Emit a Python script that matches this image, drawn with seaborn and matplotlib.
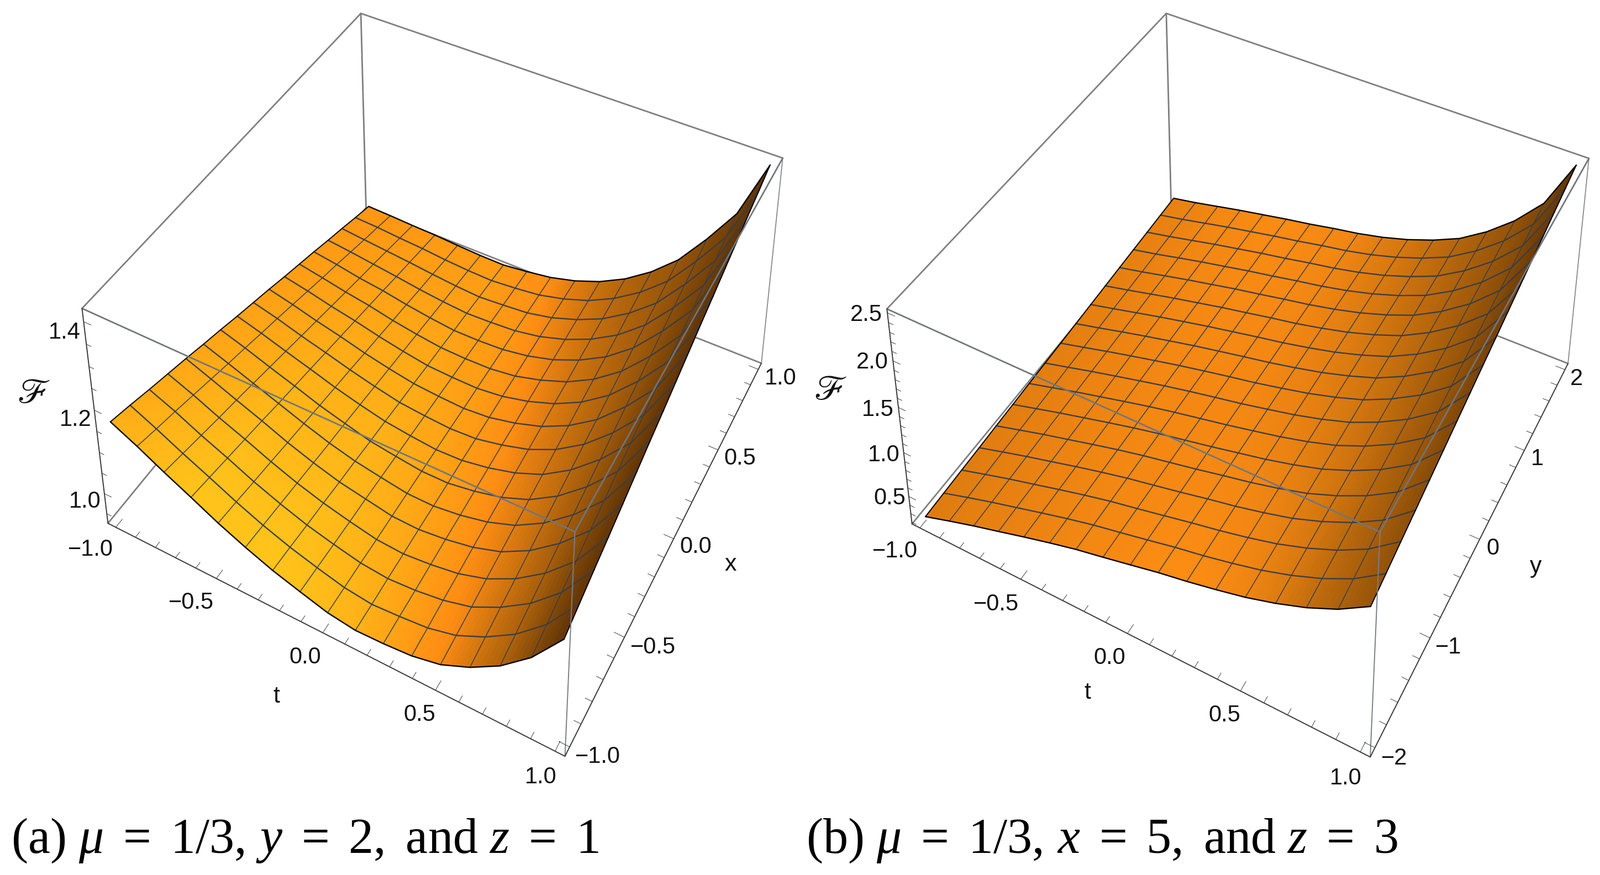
import numpy as np
import matplotlib
matplotlib.use("Agg")
import matplotlib.pyplot as plt
import seaborn as sns

WIDTH, HEIGHT = 2896, 1584

# t runs along the rows, the second variable along the columns
T_NODES = [-1.0, -0.875, -0.75, -0.625, -0.5, -0.375, -0.25, -0.125, 0.0, 0.125, 0.25, 0.375, 0.5, 0.625, 0.75, 0.875, 1.0]
X_NODES = [-1.0, -0.875, -0.75, -0.625, -0.5, -0.375, -0.25, -0.125, 0.0, 0.125, 0.25, 0.375, 0.5, 0.625, 0.75, 0.875, 1.0]
Y_NODES = [-2.0, -1.75, -1.5, -1.25, -1.0, -0.75, -0.5, -0.25, 0.0, 0.25, 0.5, 0.75, 1.0, 1.25, 1.5, 1.75, 2.0]

F_A = [
    [1.165, 1.152, 1.138, 1.125, 1.112, 1.098, 1.085, 1.071, 1.058, 1.045, 1.031, 1.018, 1.005, 0.991, 0.978, 0.964, 0.951],
    [1.136, 1.124, 1.113, 1.101, 1.089, 1.077, 1.066, 1.054, 1.043, 1.031, 1.019, 1.007, 0.996, 0.984, 0.972, 0.961, 0.949],
    [1.104, 1.094, 1.084, 1.074, 1.065, 1.055, 1.045, 1.035, 1.025, 1.015, 1.005, 0.995, 0.985, 0.976, 0.966, 0.956, 0.946],
    [1.074, 1.066, 1.058, 1.050, 1.042, 1.033, 1.025, 1.017, 1.009, 1.001, 0.993, 0.985, 0.977, 0.968, 0.960, 0.952, 0.944],
    [1.043, 1.037, 1.030, 1.024, 1.017, 1.011, 1.004, 0.998, 0.992, 0.985, 0.979, 0.972, 0.966, 0.959, 0.953, 0.946, 0.940],
    [1.016, 1.011, 1.006, 1.001, 0.996, 0.991, 0.987, 0.982, 0.977, 0.972, 0.967, 0.962, 0.957, 0.952, 0.947, 0.942, 0.937],
    [0.992, 0.989, 0.985, 0.982, 0.978, 0.975, 0.971, 0.968, 0.964, 0.961, 0.957, 0.954, 0.950, 0.947, 0.943, 0.940, 0.936],
    [0.973, 0.971, 0.969, 0.967, 0.966, 0.964, 0.962, 0.960, 0.958, 0.956, 0.954, 0.952, 0.950, 0.949, 0.947, 0.945, 0.943],
    [0.955, 0.955, 0.955, 0.954, 0.954, 0.954, 0.954, 0.954, 0.954, 0.953, 0.953, 0.953, 0.953, 0.953, 0.952, 0.952, 0.952],
    [0.946, 0.947, 0.949, 0.950, 0.952, 0.953, 0.954, 0.956, 0.957, 0.958, 0.960, 0.961, 0.963, 0.964, 0.965, 0.967, 0.968],
    [0.948, 0.951, 0.953, 0.956, 0.959, 0.961, 0.964, 0.967, 0.970, 0.972, 0.975, 0.978, 0.980, 0.983, 0.986, 0.988, 0.991],
    [0.953, 0.957, 0.962, 0.966, 0.971, 0.975, 0.979, 0.984, 0.988, 0.992, 0.997, 1.001, 1.006, 1.010, 1.014, 1.019, 1.023],
    [0.967, 0.973, 0.979, 0.986, 0.992, 0.998, 1.004, 1.010, 1.017, 1.023, 1.029, 1.035, 1.041, 1.047, 1.054, 1.060, 1.066],
    [0.996, 1.004, 1.012, 1.019, 1.027, 1.035, 1.043, 1.051, 1.059, 1.066, 1.074, 1.082, 1.090, 1.098, 1.105, 1.113, 1.121],
    [1.035, 1.045, 1.055, 1.065, 1.076, 1.086, 1.096, 1.106, 1.116, 1.126, 1.136, 1.146, 1.157, 1.167, 1.177, 1.187, 1.197],
    [1.090, 1.102, 1.114, 1.126, 1.138, 1.150, 1.162, 1.174, 1.186, 1.198, 1.210, 1.222, 1.234, 1.246, 1.258, 1.270, 1.282],
    [1.167, 1.183, 1.199, 1.214, 1.230, 1.246, 1.262, 1.277, 1.293, 1.309, 1.325, 1.340, 1.356, 1.372, 1.388, 1.403, 1.419],
]

F_B = [
    [0.226, 0.237, 0.248, 0.258, 0.269, 0.280, 0.291, 0.302, 0.312, 0.323, 0.334, 0.345, 0.356, 0.367, 0.377, 0.388, 0.399],
    [0.320, 0.328, 0.337, 0.345, 0.353, 0.361, 0.370, 0.378, 0.386, 0.394, 0.403, 0.411, 0.419, 0.427, 0.436, 0.444, 0.452],
    [0.410, 0.416, 0.423, 0.429, 0.436, 0.442, 0.449, 0.455, 0.462, 0.468, 0.474, 0.481, 0.487, 0.494, 0.500, 0.507, 0.513],
    [0.493, 0.498, 0.503, 0.508, 0.513, 0.518, 0.523, 0.528, 0.534, 0.539, 0.544, 0.549, 0.554, 0.559, 0.564, 0.569, 0.574],
    [0.578, 0.581, 0.584, 0.588, 0.591, 0.594, 0.597, 0.600, 0.604, 0.607, 0.610, 0.613, 0.616, 0.619, 0.623, 0.626, 0.629],
    [0.659, 0.661, 0.662, 0.664, 0.666, 0.667, 0.669, 0.670, 0.672, 0.674, 0.675, 0.677, 0.679, 0.680, 0.682, 0.683, 0.685],
    [0.735, 0.735, 0.735, 0.735, 0.735, 0.735, 0.735, 0.735, 0.735, 0.735, 0.735, 0.735, 0.735, 0.735, 0.735, 0.735, 0.735],
    [0.798, 0.798, 0.797, 0.797, 0.797, 0.796, 0.796, 0.796, 0.796, 0.795, 0.795, 0.795, 0.794, 0.794, 0.794, 0.793, 0.793],
    [0.864, 0.863, 0.862, 0.860, 0.859, 0.858, 0.857, 0.855, 0.854, 0.853, 0.852, 0.850, 0.849, 0.848, 0.847, 0.845, 0.844],
    [0.931, 0.930, 0.928, 0.927, 0.926, 0.924, 0.923, 0.922, 0.921, 0.919, 0.918, 0.917, 0.915, 0.914, 0.913, 0.911, 0.910],
    [0.988, 0.988, 0.989, 0.989, 0.990, 0.990, 0.991, 0.991, 0.992, 0.992, 0.992, 0.993, 0.993, 0.994, 0.994, 0.995, 0.995],
    [1.053, 1.056, 1.059, 1.062, 1.065, 1.068, 1.071, 1.074, 1.078, 1.081, 1.084, 1.087, 1.090, 1.093, 1.096, 1.099, 1.102],
    [1.125, 1.132, 1.139, 1.145, 1.152, 1.159, 1.166, 1.173, 1.180, 1.186, 1.193, 1.200, 1.207, 1.214, 1.220, 1.227, 1.234],
    [1.217, 1.230, 1.243, 1.256, 1.269, 1.282, 1.295, 1.308, 1.321, 1.333, 1.346, 1.359, 1.372, 1.385, 1.398, 1.411, 1.424],
    [1.328, 1.349, 1.370, 1.391, 1.412, 1.432, 1.453, 1.474, 1.495, 1.516, 1.537, 1.558, 1.578, 1.599, 1.620, 1.641, 1.662],
    [1.469, 1.500, 1.532, 1.563, 1.594, 1.626, 1.657, 1.688, 1.720, 1.751, 1.782, 1.813, 1.845, 1.876, 1.907, 1.939, 1.970],
    [1.656, 1.708, 1.761, 1.813, 1.866, 1.918, 1.971, 2.023, 2.076, 2.128, 2.180, 2.233, 2.285, 2.338, 2.390, 2.443, 2.495],
]

# axis ranges and tick labels
T_LIM = (-1.04, 1.04)
X_LIM = (-1.04, 1.04)
Y_LIM = (-2.08, 2.08)
F_LIM_A = (0.926, 1.429)
F_LIM_B = (0.18, 2.54)

T_MAJOR = [-1.0, -0.5, 0.0, 0.5, 1.0]
T_MINOR = [-0.9, -0.8, -0.7, -0.6, -0.4, -0.3, -0.2, -0.1, 0.1, 0.2, 0.3, 0.4, 0.6, 0.7, 0.8, 0.9]
X_MAJOR = [-1.0, -0.5, 0.0, 0.5, 1.0]
X_MINOR = [-0.9, -0.8, -0.7, -0.6, -0.4, -0.3, -0.2, -0.1, 0.1, 0.2, 0.3, 0.4, 0.6, 0.7, 0.8, 0.9]
Y_MAJOR = [-2.0, -1.0, 0.0, 1.0, 2.0]
Y_MINOR = [-1.8, -1.6, -1.4, -1.2, -0.8, -0.6, -0.4, -0.2, 0.2, 0.4, 0.6, 0.8, 1.2, 1.4, 1.6, 1.8]
F_MAJOR_A = [1.0, 1.2, 1.4]
F_MINOR_A = [0.95, 1.05, 1.1, 1.15, 1.25, 1.3, 1.35]
F_MAJOR_B = [0.5, 1.0, 1.5, 2.0, 2.5]
F_MINOR_B = [0.2, 0.3, 0.4, 0.6, 0.7, 0.8, 0.9, 1.1, 1.2, 1.3, 1.4, 1.6, 1.7, 1.8, 1.9, 2.1, 2.2, 2.3, 2.4]

T_LABELS = ["\u22121.0", "\u22120.5", "0.0", "0.5", "1.0"]
X_LABELS = ["\u22121.0", "\u22120.5", "0.0", "0.5", "1.0"]
Y_LABELS = ["\u22122", "\u22121", "0", "1", "2"]
F_LABELS_A = ["1.0", "1.2", "1.4"]
F_LABELS_B = ["0.5", "1.0", "1.5", "2.0", "2.5"]

CAPTION_A = r"(a) $\mu\ =\ 1/3,\,y\ =\ 2,$ and $z\ =\ 1$"
CAPTION_B = r"(b) $\mu\ =\ 1/3,\,x\ =\ 5,$ and $z\ =\ 3$"

# surface tone per t node along the two long edges (0 brown, 0.6 orange, 1 yellow)
SHADE_A_LOW = [0.85, 0.90, 0.95, 1.0, 1.0, 1.0, 1.0, 0.97, 0.93, 0.88, 0.80, 0.68, 0.58, 0.47, 0.36, 0.22, 0.08]
SHADE_A_HIGH = [0.66, 0.67, 0.68, 0.69, 0.70, 0.70, 0.70, 0.64, 0.60, 0.50, 0.43, 0.37, 0.32, 0.28, 0.22, 0.15, 0.06]
SHADE_B_LOW = [0.50, 0.51, 0.52, 0.53, 0.54, 0.55, 0.56, 0.57, 0.58, 0.59, 0.59, 0.58, 0.55, 0.50, 0.42, 0.35, 0.28]
SHADE_B_HIGH = [0.53, 0.54, 0.56, 0.57, 0.58, 0.585, 0.58, 0.57, 0.55, 0.51, 0.47, 0.42, 0.37, 0.32, 0.27, 0.20, 0.07]

# where the seven visible box corners sit in the target image (px from top left)
CORNERS_A = [(653, 24), (1417, 287), (148, 559), (1041, 961), (196, 947), (1022, 1370), (1378, 657)]
CORNERS_B = [(2111, 24), (2876, 287), (1605, 560), (2498, 962), (1651, 948), (2480, 1371), (2838, 658)]
CORNER_KEYS = [(0, 1, 1), (1, 1, 1), (0, 0, 1), (1, 0, 1), (0, 0, 0), (1, 0, 0), (1, 1, 0)]

F_LABEL_POS_A = [(154, 908), (137, 760), (117, 602)]
T_LABEL_POS_A = [(164, 995), (346, 1091), (552, 1190), (759, 1294), (979, 1407)]
X_LABEL_POS_A = [(1082, 1370), (1182, 1172), (1259, 990), (1339, 830), (1413, 685)]
F_LABEL_POS_B = [(1610, 902), (1600, 824), (1589, 742), (1579, 656), (1568, 570)]
T_LABEL_POS_B = [(1620, 998), (1803, 1094), (2008, 1191), (2216, 1295), (2436, 1409)]
Y_LABEL_POS_B = [(2524, 1373), (2622, 1172), (2702, 993), (2782, 831), (2854, 686)]

SANS = ["Liberation Sans"]
GRID = "#3b3e42"
BOX = "#7e7e7e"
AXIS = "#3a3a3a"


def fit_camera(ax, corners, second_lim, f_lim):
    """Projective camera for the box, least squares on the visible corners."""
    to_axes = ax.transData.inverted()
    rows, rhs = [], []
    for (px, py), (i, j, k) in zip(corners, CORNER_KEYS):
        u, v = to_axes.transform((px, HEIGHT - py))
        p = [T_LIM[i], second_lim[j], f_lim[k]]
        rows.append(p + [1, 0, 0, 0, 0] + [-u * c for c in p])
        rows.append([0, 0, 0, 0] + p + [1] + [-v * c for c in p])
        rhs += [u, v]
    q = np.linalg.lstsq(np.array(rows), np.array(rhs), rcond=None)[0]
    depth = [-1 / np.ptp(T_LIM), 1 / np.ptp(second_lim), -1 / np.ptp(f_lim), 0.0]
    return np.vstack([q[:4], q[4:8], depth, [q[8], q[9], q[10], 1.0]])


def subdivide(values, n=6):
    """Split every mesh cell so the tone can be blended smoothly across it."""
    values = np.asarray(values, dtype=float)
    rows, cols = values.shape
    fine_r = np.linspace(0, rows - 1, (rows - 1) * n + 1)
    fine_c = np.linspace(0, cols - 1, (cols - 1) * n + 1)
    across = np.array([np.interp(fine_c, np.arange(cols), r) for r in values])
    return np.array([np.interp(fine_r, np.arange(rows), c) for c in across.T]).T


def draw_box(ax, second_lim, f_lim):
    t0, t1 = T_LIM
    s0, s1 = second_lim
    f0, f1 = f_lim
    back = [
        ([t0, t1], [s1, s1], [f1, f1]),
        ([t0, t0], [s0, s1], [f1, f1]),
        ([t0, t0], [s1, s1], [f0, f1]),
        ([t0, t0], [s0, s1], [f0, f0]),
        ([t0, t1], [s1, s1], [f0, f0]),
    ]
    for edge in back:
        ax.plot(*edge, color=BOX, lw=2.0, zorder=1, solid_capstyle="round")
    ax.plot([t1, t1], [s1, s1], [f0, f1], color="#8a8a8a", lw=1.3, zorder=1)
    for edge in (([t0, t1], [s0, s0], [f1, f1]), ([t1, t1], [s0, s1], [f1, f1])):
        ax.plot(*edge, color="#70767c", lw=2.0, zorder=5, solid_capstyle="round")
    ax.plot([t1, t1], [s0, s0], [f0, f1], color="#7a7f84", lw=1.4, zorder=5)
    for edge in (([t0, t1], [s0, s0], [f0, f0]), ([t1, t1], [s0, s1], [f0, f0]), ([t0, t0], [s0, s0], [f0, f1])):
        ax.plot(*edge, color=AXIS, lw=1.4, zorder=5, solid_capstyle="round")


def draw_ticks(ax, second_lim, f_lim, second_major, second_minor, f_major, f_minor):
    s_span, t_span = np.ptp(second_lim), np.ptp(T_LIM)
    s0, f0, t0, t1 = second_lim[0], f_lim[0], T_LIM[0], T_LIM[1]
    for ticks, size in ((T_MAJOR, 0.021), (T_MINOR, 0.014)):
        for t in ticks:
            ax.plot([t, t], [s0, s0 + size * s_span], [f0, f0], color=AXIS, lw=0.7, zorder=5)
    for ticks, size in ((second_major, 0.021), (second_minor, 0.014)):
        for s in ticks:
            ax.plot([t1, t1 - size * t_span], [s, s], [f0, f0], color=AXIS, lw=0.7, zorder=5)
    for ticks, size in ((f_major, 0.017), (f_minor, 0.011)):
        for f in ticks:
            ax.plot([t0, t0 + size * t_span], [s0, s0], [f, f], color=AXIS, lw=0.7, zorder=5)


def draw_surface(ax, second_nodes, values, shade_low, shade_high, tones):
    tt, ss = np.meshgrid(T_NODES, second_nodes, indexing="ij")
    values = np.asarray(values)
    weight = (ss - ss.min()) / np.ptp(ss)
    shade = np.array(shade_low)[:, None] * (1 - weight) + np.array(shade_high)[:, None] * weight
    fine_shade = subdivide(shade)
    cell = (fine_shade[:-1, :-1] + fine_shade[1:, 1:]) / 2
    ax.plot_surface(
        subdivide(tt), subdivide(ss), subdivide(values),
        facecolors=tones(cell), rstride=1, cstride=1, shade=False,
        linewidth=0, antialiased=False, zorder=2,
    )
    for j in range(1, len(second_nodes) - 1):
        ax.plot(T_NODES, ss[:, j], values[:, j], color=GRID, lw=1.7, zorder=3)
    for i in range(1, len(T_NODES) - 1):
        ax.plot(tt[i, :], second_nodes, values[i, :], color=GRID, lw=1.1, zorder=3)
    for j in (0, -1):
        ax.plot(T_NODES, ss[:, j], values[:, j], color="black", lw=1.7, zorder=4)
    for i in (0, -1):
        ax.plot(tt[i, :], second_nodes, values[i, :], color="black", lw=1.4, zorder=4)


def put_text(fig, pos, label, size=30, **kwargs):
    fig.text(pos[0] / WIDTH, 1 - pos[1] / HEIGHT, label, fontsize=size, ha="center", va="center", **kwargs)


def draw_panel(fig, left, corners, second_nodes, second_lim, f_lim, values, shades, ticks, tones):
    ax = fig.add_axes([left / WIDTH, 134 / HEIGHT, 1450 / WIDTH, 1450 / HEIGHT], projection="3d")
    ax.set_proj_type("ortho")
    ax.set_axis_off()
    ax.computed_zorder = False
    ax.patch.set_alpha(0)
    ax.apply_aspect()
    camera = fit_camera(ax, corners, second_lim, f_lim)
    ax.get_proj = lambda: camera
    draw_box(ax, second_lim, f_lim)
    draw_surface(ax, second_nodes, values, shades[0], shades[1], tones)
    draw_ticks(ax, second_lim, f_lim, *ticks)
    ax.set_xlim(*T_LIM)
    ax.set_ylim(*second_lim)
    ax.set_zlim(*f_lim)


def main():
    sns.set_theme(style="white")
    plt.rcParams["font.family"] = SANS
    plt.rcParams["mathtext.fontset"] = "custom"
    plt.rcParams["mathtext.rm"] = "Liberation Serif"
    plt.rcParams["mathtext.it"] = "Liberation Serif:italic"

    tones = sns.blend_palette(["#4f2a04", "#7f4708", "#bd6a0d", "#ff8e14", "#ffa616", "#ffc41a"], n_colors=256, as_cmap=True)
    fig = plt.figure(figsize=(WIDTH / 100, HEIGHT / 100), dpi=100, facecolor="white")

    draw_panel(fig, 0, CORNERS_A, X_NODES, X_LIM, F_LIM_A, F_A, (SHADE_A_LOW, SHADE_A_HIGH),
               (X_MAJOR, X_MINOR, F_MAJOR_A, F_MINOR_A), tones)
    draw_panel(fig, 1446, CORNERS_B, Y_NODES, Y_LIM, F_LIM_B, F_B, (SHADE_B_LOW, SHADE_B_HIGH),
               (Y_MAJOR, Y_MINOR, F_MAJOR_B, F_MINOR_B), tones)

    for labels, places in ((F_LABELS_A, F_LABEL_POS_A), (T_LABELS, T_LABEL_POS_A), (X_LABELS, X_LABEL_POS_A),
                           (F_LABELS_B, F_LABEL_POS_B), (T_LABELS, T_LABEL_POS_B), (Y_LABELS, Y_LABEL_POS_B)):
        for label, pos in zip(labels, places):
            put_text(fig, pos, label, color="#111111")

    put_text(fig, (500, 1261), "t", size=31, color="#111111")
    put_text(fig, (1322, 1022), "x", size=31, color="#111111")
    put_text(fig, (1968, 1254), "t", size=31, color="#111111")
    put_text(fig, (2780, 1026), "y", size=31, color="#111111")
    put_text(fig, (61, 713), r"$\mathscr{F}$", size=46, math_fontfamily="stix", color="#111111")
    put_text(fig, (1503, 707), r"$\mathscr{F}$", size=46, math_fontfamily="stix", color="#111111")

    for left, caption in ((20, CAPTION_A), (1459, CAPTION_B)):
        fig.text(left / WIDTH, 1 - 1544 / HEIGHT, caption, fontsize=65, family="Liberation Serif",
                 color="black", ha="left", va="baseline")

    fig.savefig("out.png", dpi=100, facecolor="white")


if __name__ == "__main__":
    main()
